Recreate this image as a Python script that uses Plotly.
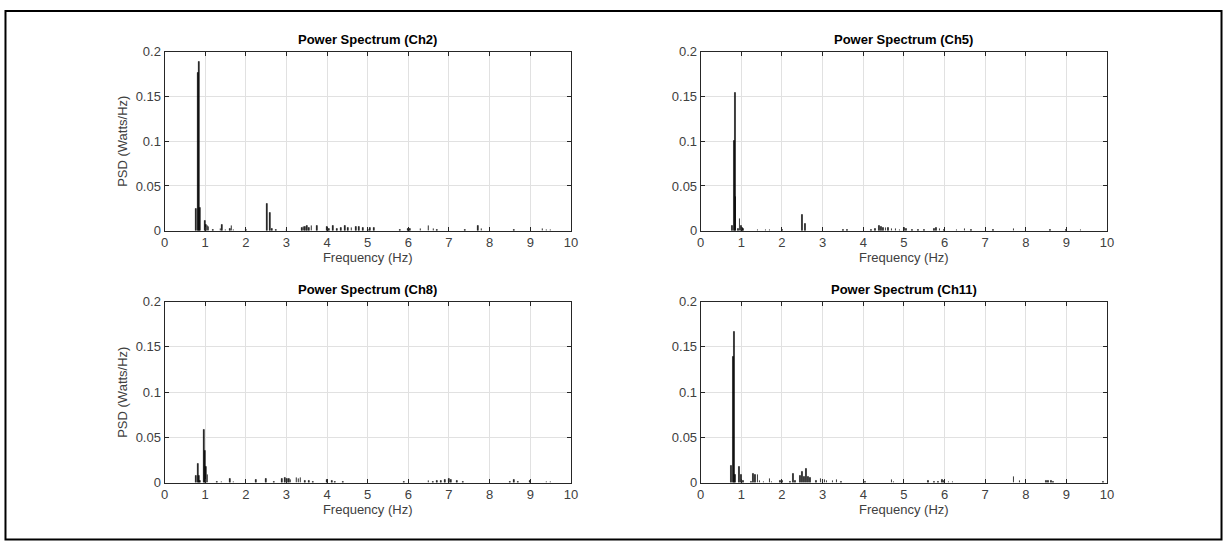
import plotly.graph_objects as go

# ---------------- data ----------------
ch2_f = [0.78, 0.82, 0.85, 0.87, 0.99, 1.03, 1.06, 1.08, 1.2, 1.38, 1.42, 1.5, 1.62, 1.65, 1.7, 2.0,
         2.52, 2.6, 2.65, 2.75, 3.0, 3.38, 3.42, 3.46, 3.5, 3.55, 3.62, 3.75, 4.0, 4.05, 4.15, 4.25,
         4.35, 4.45, 4.52, 4.6, 4.72, 4.78, 4.88, 5.0, 5.05, 5.15, 5.8, 6.0, 6.05, 6.3, 6.5, 6.62,
         6.7, 7.4, 7.72, 7.8, 8.6, 9.3, 9.4, 9.5]
ch2_p = [0.024, 0.177, 0.189, 0.026, 0.011, 0.007, 0.006, 0.004, 0.001, 0.002, 0.007, 0.001, 0.002, 0.006, 0.001, 0.001,
         0.030, 0.020, 0.002, 0.001, 0.001, 0.003, 0.004, 0.004, 0.005, 0.003, 0.005, 0.006, 0.004, 0.002, 0.005, 0.002,
         0.003, 0.005, 0.003, 0.003, 0.004, 0.004, 0.003, 0.001, 0.003, 0.003, 0.001, 0.002, 0.002, 0.002, 0.005, 0.002,
         0.001, 0.001, 0.005, 0.002, 0.001, 0.002, 0.001, 0.001]

ch5_f = [0.78, 0.82, 0.84, 0.86, 0.92, 0.96, 1.0, 1.03, 1.05, 1.4, 1.6, 1.7, 2.0, 2.5, 2.58, 3.5, 3.6,
         4.2, 4.3, 4.4, 4.45, 4.5, 4.55, 4.62, 4.7, 4.8, 4.9, 5.0, 5.05, 5.2, 5.35, 5.5, 5.75, 5.8, 5.88,
         6.0, 6.3, 6.5, 6.65, 7.2, 7.7, 8.0, 8.6, 9.0, 9.35]
ch5_p = [0.005, 0.101, 0.154, 0.038, 0.002, 0.013, 0.006, 0.003, 0.002, 0.001, 0.001, 0.001, 0.001, 0.018, 0.008, 0.001, 0.001,
         0.001, 0.002, 0.005, 0.004, 0.003, 0.003, 0.003, 0.002, 0.002, 0.001, 0.003, 0.002, 0.001, 0.001, 0.001, 0.002, 0.003, 0.002,
         0.001, 0.001, 0.002, 0.001, 0.001, 0.002, 0.001, 0.001, 0.001, 0.001]

ch8_f = [0.78, 0.82, 0.85, 0.88, 0.98, 1.0, 1.03, 1.06, 1.3, 1.4, 1.62, 1.7, 2.25, 2.5, 2.7, 2.9, 2.97,
         3.02, 3.07, 3.1, 3.25, 3.3, 3.35, 3.45, 3.55, 3.65, 4.0, 4.12, 4.2, 4.4, 5.9, 6.5, 6.6, 6.7,
         6.8, 6.9, 7.0, 7.05, 7.2, 7.35, 8.5, 8.6, 8.7, 9.0, 9.4, 9.5]
ch8_p = [0.008, 0.021, 0.008, 0.002, 0.059, 0.035, 0.018, 0.009, 0.001, 0.001, 0.004, 0.001, 0.003, 0.004, 0.001, 0.004, 0.005,
         0.004, 0.004, 0.003, 0.005, 0.004, 0.005, 0.002, 0.002, 0.001, 0.003, 0.002, 0.001, 0.001, 0.001, 0.002, 0.001, 0.002,
         0.002, 0.003, 0.004, 0.003, 0.002, 0.001, 0.001, 0.003, 0.001, 0.002, 0.001, 0.001]

ch11_f = [0.75, 0.8, 0.82, 0.85, 0.95, 0.99, 1.05, 1.25, 1.3, 1.35, 1.4, 1.45, 1.55, 1.7, 1.75, 1.95, 2.0,
          2.2, 2.27, 2.32, 2.45, 2.5, 2.55, 2.6, 2.65, 2.7, 2.85, 2.95, 3.0, 3.05, 3.1, 3.25, 3.35, 3.45,
          4.05, 4.7, 4.75, 5.6, 5.75, 5.85, 5.95, 6.0, 6.1, 6.2, 7.7, 7.85, 8.5, 8.55, 8.62, 8.68, 9.9]
ch11_p = [0.019, 0.139, 0.167, 0.009, 0.018, 0.009, 0.002, 0.001, 0.010, 0.009, 0.009, 0.002, 0.001, 0.004, 0.001, 0.002, 0.002,
          0.001, 0.010, 0.002, 0.008, 0.012, 0.007, 0.015, 0.007, 0.005, 0.002, 0.004, 0.003, 0.003, 0.002, 0.002, 0.003, 0.001,
          0.001, 0.003, 0.001, 0.002, 0.001, 0.001, 0.003, 0.002, 0.001, 0.001, 0.007, 0.002, 0.002, 0.002, 0.002, 0.001, 0.001]

titles = ["Power Spectrum (Ch2)", "Power Spectrum (Ch5)", "Power Spectrum (Ch8)", "Power Spectrum (Ch11)"]
series = [(ch2_f, ch2_p), (ch5_f, ch5_p), (ch8_f, ch8_p), (ch11_f, ch11_p)]
x_ticks = list(range(0, 11))
y_ticks = [0, 0.05, 0.1, 0.15, 0.2]
y_tick_text = ["0", "0.05", "0.1", "0.15", "0.2"]
x_label = "Frequency (Hz)"
y_label = "PSD (Watts/Hz)"

# ---------------- layout ----------------
W, H = 1230, 548
FONT = "Liberation Sans, Arial, Helvetica, sans-serif"
AX = "#262626"
GRID = "#e1e1e1"
FS = 13

boxes = [  # left, right, top, bottom in px
    (162, 572, 46, 230),
    (703, 1113, 46, 230),
    (162, 572, 303, 489),
    (703, 1113, 303, 489),
]

fig = go.Figure()
layout = dict(
    width=W, height=H, margin=dict(l=0, r=0, t=0, b=0),
    paper_bgcolor="white", plot_bgcolor="white", showlegend=False,
    font=dict(family=FONT, size=FS, color=AX), bargap=0,
)
annotations = []
for i, ((fx, py), (l, r, t, b)) in enumerate(zip(series, boxes)):
    n = "" if i == 0 else str(i + 1)
    fig.add_trace(go.Bar(x=fx, y=py, width=0.018, marker=dict(color="black", line=dict(width=0.5, color="black")),
                         xaxis="x" + n, yaxis="y" + n))
    common = dict(showline=True, linecolor=AX, linewidth=1, mirror="ticks", ticks="inside",
                  ticklen=4, tickcolor=AX, showgrid=True, gridcolor=GRID, gridwidth=1,
                  zeroline=False, tickfont=dict(family=FONT, size=FS, color="#404040"))
    layout["xaxis" + n] = dict(domain=[l / W, r / W], anchor="y" + n, range=[0, 10],
                               tickvals=x_ticks, ticktext=[str(v) for v in x_ticks],
                               title=dict(text=x_label, font=dict(size=FS, color="#404040"), standoff=3),
                               **common)
    layout["yaxis" + n] = dict(domain=[1 - b / H, 1 - t / H], anchor="x" + n, range=[0, 0.2],
                               tickvals=y_ticks, ticktext=y_tick_text,
                               title=dict(text=y_label if i % 2 == 0 else "", font=dict(size=FS, color="#404040"), standoff=5),
                               **common)
    annotations.append(dict(text="<b>" + titles[i] + "</b>", x=(l + r) / 2 / W, y=1 - (t - 3) / H,
                            xref="paper", yref="paper", xanchor="center", yanchor="bottom", showarrow=False,
                            font=dict(family=FONT, size=FS, color="black")))
layout["annotations"] = annotations
layout["shapes"] = [dict(type="rect", xref="paper", yref="paper", x0=1.5 / W, x1=1 - 1.5 / W,
                         y0=0.5 / H, y1=1 - 4 / H, line=dict(color="black", width=2))]
fig.update_layout(**layout)
fig.write_html("out.html",
               post_script="document.body.style.margin='0';document.body.style.padding='0';")
